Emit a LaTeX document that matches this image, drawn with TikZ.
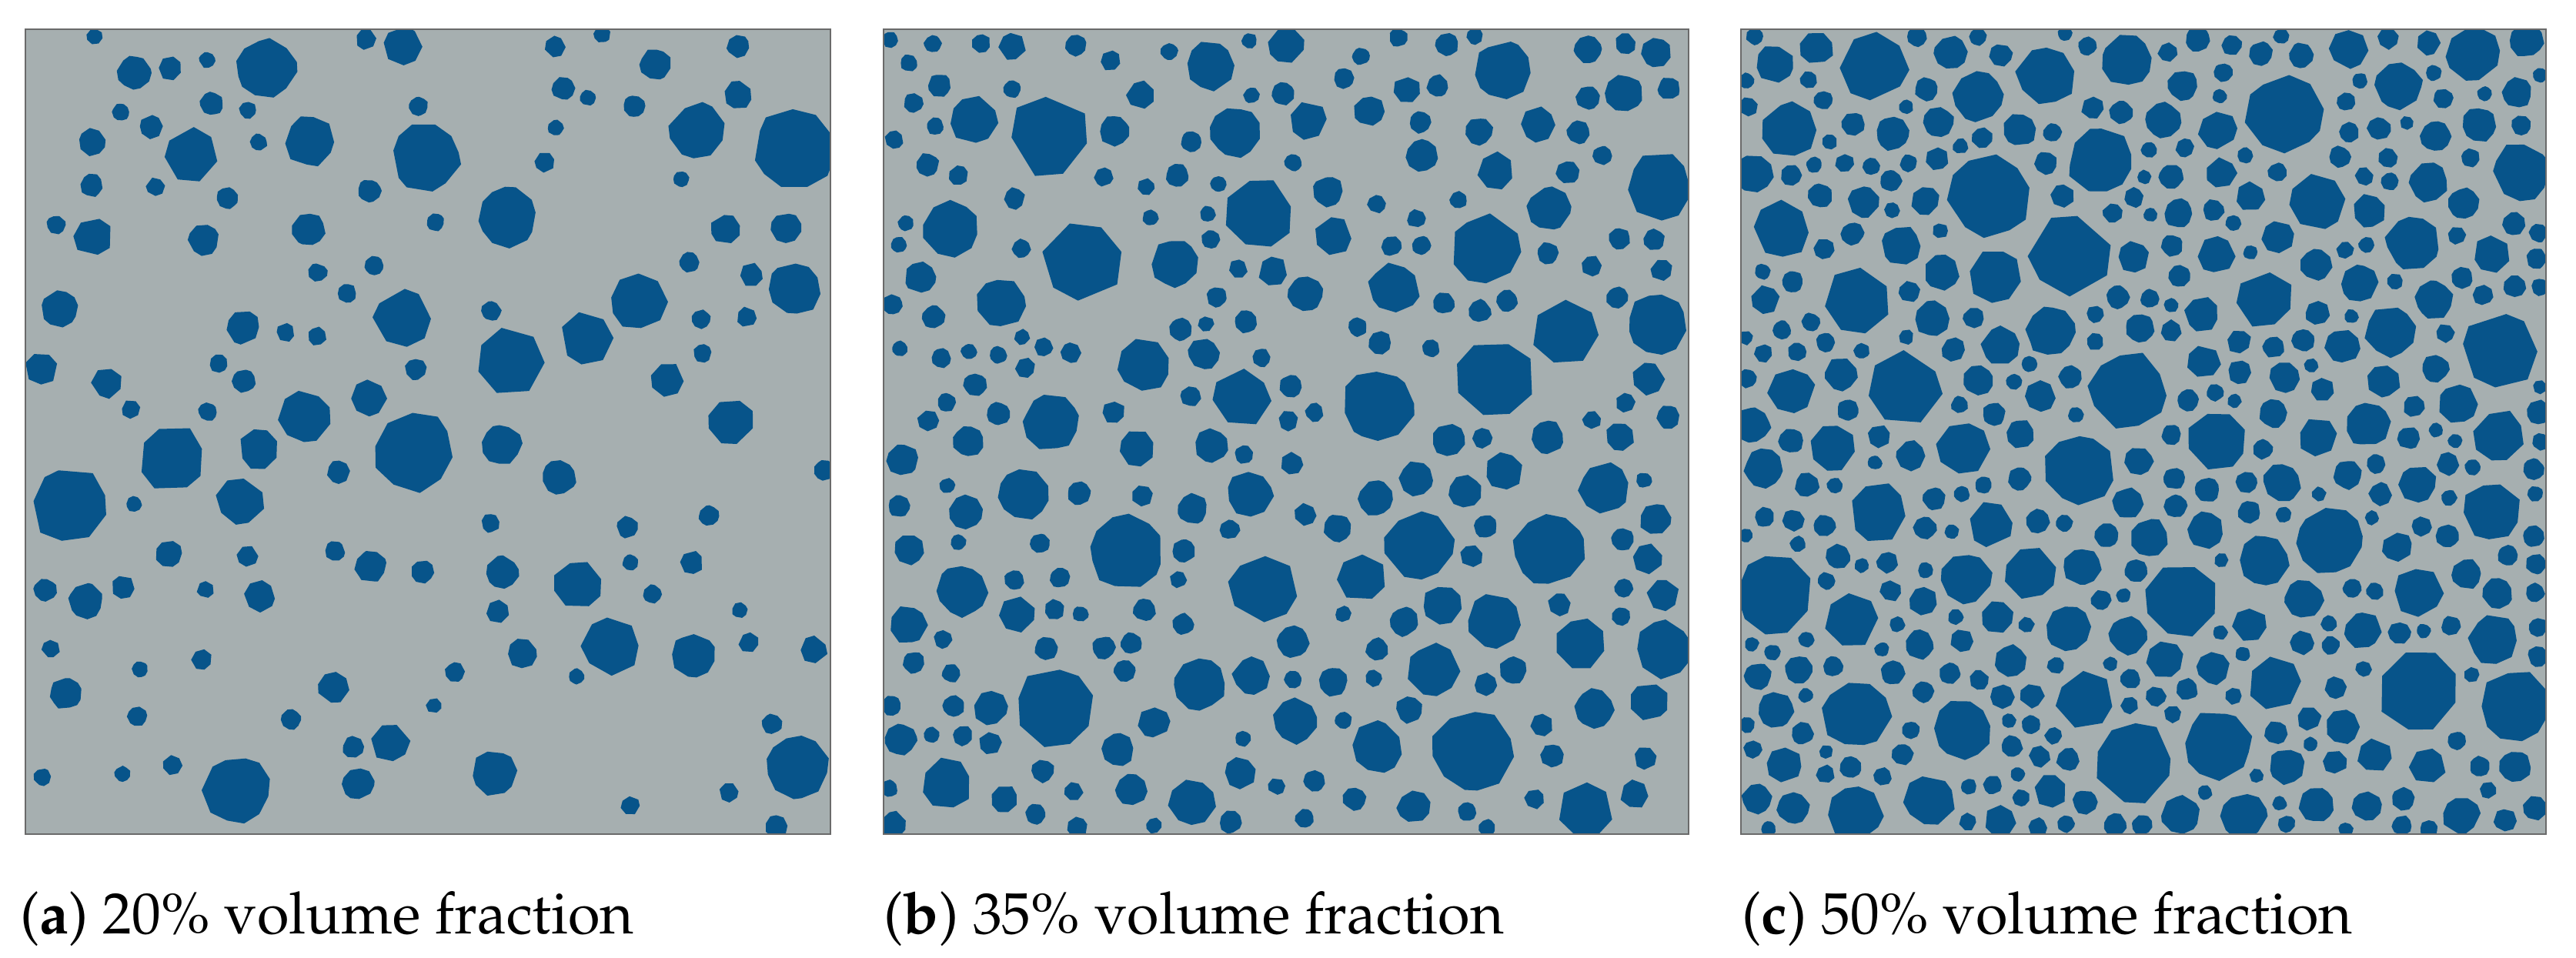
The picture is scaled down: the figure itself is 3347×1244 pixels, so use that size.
\documentclass[tikz,border=0pt]{standalone}
\usepackage[T1]{fontenc}
\usepackage{mathpazo}
\definecolor{pbg}{HTML}{A6AFB0}
\definecolor{pblue}{HTML}{07548A}
\definecolor{pframe}{HTML}{6A6A6A}
\ExplSyntaxOn
\cs_new:Npn \GRrand #1#2 { \int_rand:nn {#1} {#2} }
\cs_new_protected:Npn \GRseed #1 { \sys_gset_rand_seed:n {#1} }
\ExplSyntaxOff
\makeatletter
\newcount\GRx \newcount\GRy \newcount\GRr \newcount\GRm \newcount\GRtry
\newcount\GRd \newcount\GRdx \newcount\GRdy \newcount\GRcnt
\newcount\GRn \newcount\GRph \newcount\GRk \newcount\GRang
\newdimen\GRrd \newdimen\GRudim \GRudim=0.01cm
\newif\ifGRok
\def\GRW{1046}
\def\GRgap{5}
\gdef\GRlist{}
\let\GRend\relax
\def\GRbreak#1\GRend{}
\def\GRcheck#1#2#3{%
  \GRd=\numexpr\GRr+#3+\GRgap\relax
  \GRdx=\numexpr\GRx-#1\relax \ifnum\GRdx<0 \GRdx=-\GRdx\fi
  \ifnum\GRdx<\GRd
    \GRdy=\numexpr\GRy-#2\relax \ifnum\GRdy<0 \GRdy=-\GRdy\fi
    \ifnum\GRdy<\GRd
      \ifnum\numexpr\GRdx*\GRdx+\GRdy*\GRdy\relax<\numexpr\GRd*\GRd\relax
        \GRokfalse
      \fi
    \fi
  \fi
  \ifGRok\else\expandafter\GRbreak\fi}
\def\GRplace{%
  \GRtry=0
  \GRm=\numexpr\GRr*6/10\relax
  \GRplaceloop}
\def\GRplaceloop{%
  \advance\GRtry by 1
  \GRx=\GRrand{\GRm}{\GRW-\GRm}\relax
  \GRy=\GRrand{\GRm}{\GRW-\GRm}\relax
  \GRoktrue
  \GRlist\GRend
  \ifGRok
    \xdef\GRlist{\unexpanded\expandafter{\GRlist}\noexpand\GRcheck{\the\GRx}{\the\GRy}{\the\GRr}}%
    \GRdrawpoly
    \let\GRnext\relax
  \else
    \ifnum\GRtry<\GRmaxtry\relax \let\GRnext\GRplaceloop \else \let\GRnext\relax \fi
  \fi
  \GRnext}
\def\GRclass#1#2#3#4{%
  \GRcnt=#1\relax \def\GRrmin{#2}\def\GRrmax{#3}\def\GRmaxtry{#4}%
  \GRclassloop}
\def\GRclassloop{%
  \ifnum\GRcnt>0
    \advance\GRcnt by -1
    \GRr=\GRrand{\GRrmin}{\GRrmax}\relax
    \GRplace
    \let\GRnextc\GRclassloop
  \else
    \let\GRnextc\relax
  \fi
  \GRnextc}
\def\GRdrawpoly{%
  \GRn=\GRrand{7}{12}\relax
  \GRph=\GRrand{0}{359}\relax
  \GRk=0
  \GRvert\pgfpathmoveto{\GRpt}%
  \GRpolyloop
  \pgfpathclose
  \pgfusepath{fill}}
\def\GRpolyloop{%
  \advance\GRk by 1
  \ifnum\GRk<\GRn
    \GRvert\pgfpathlineto{\GRpt}%
    \let\GRnextp\GRpolyloop
  \else
    \let\GRnextp\relax
  \fi
  \GRnextp}
\def\GRvert{%
  \GRang=\numexpr\GRph+\GRk*360/\GRn+\GRrand{-9}{9}\relax
  \GRrd=\dimexpr\GRr\GRudim*\GRrand{88}{100}/100\relax
  \pgfpointpolar{\the\GRang}{\the\GRrd}%
  \advance\pgf@x by \GRx\GRudim
  \advance\pgf@y by \GRy\GRudim
  \edef\GRpt{\noexpand\pgfqpoint{\the\pgf@x}{\the\pgf@y}}}
\def\GRpanel#1#2#3#4{%
  \begin{scope}[shift={(#1,#2)}]
    \fill[panelbg] (0,0) rectangle (1046,1046);
    \begin{scope}
      \clip (0,0) rectangle (1046,1046);
      \GRseed{#3}\gdef\GRlist{}%
      \pgfsetfillcolor{pblue}%
      #4%
    \end{scope}
    \draw[panelframe] (0,0) rectangle (1046,1046);
  \end{scope}}
\makeatother
\begin{document}
\begin{tikzpicture}[x=0.01cm,y=0.01cm,
  panelbg/.style={fill=pbg},
  panelframe/.style={draw=pframe,line width=0.6pt},
  captext/.style={anchor=base west,inner sep=0pt,font=\fontsize{21.5}{26}\selectfont}]
\useasboundingbox (0,0) rectangle (3347,1244);
\GRpanel{33}{160}{101}{%
  \GRclass{8}{44}{56}{400}\GRclass{16}{31}{41}{300}%
  \GRclass{30}{19}{27}{200}\GRclass{75}{11}{16}{120}}
\GRpanel{1148}{160}{202}{%
  \GRclass{14}{44}{56}{400}\GRclass{28}{31}{41}{300}%
  \GRclass{60}{19}{27}{200}\GRclass{150}{11}{16}{120}}
\GRpanel{2262}{160}{303}{%
  \GRclass{18}{44}{56}{400}\GRclass{36}{31}{41}{300}%
  \GRclass{90}{19}{27}{200}\GRclass{200}{13}{17}{100}%
  \GRclass{220}{10}{12}{80}}
\node[captext] (capa) at (26,31) {(\textbf{a}) 20\% volume fraction};
\node[captext] (capb) at (1148,31) {(\textbf{b}) 35\% volume fraction};
\node[captext] (capc) at (2263,31) {(\textbf{c}) 50\% volume fraction};
\end{tikzpicture}
\end{document}
